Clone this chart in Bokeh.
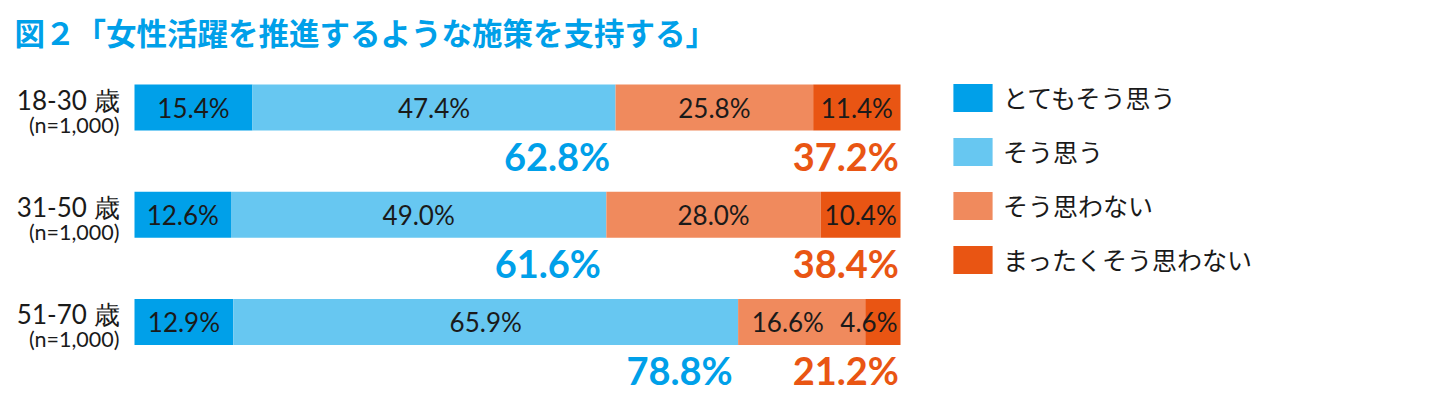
from bokeh.plotting import figure
from bokeh.models import ColumnDataSource, Range1d, Legend, LegendItem, Label
from bokeh.core.properties import value
from bokeh.embed import file_html
from bokeh.resources import INLINE

# ---- data ----
title_text = "図２「女性活躍を推進するような施策を支持する」"
groups = ["18-30 歳", "31-50 歳", "51-70 歳"]
sample_sizes = ["(n=1,000)", "(n=1,000)", "(n=1,000)"]
series_names = ["とてもそう思う", "そう思う", "そう思わない", "まったくそう思わない"]
strongly_agree = [15.4, 12.6, 12.9]
agree = [47.4, 49.0, 65.9]
disagree = [25.8, 28.0, 16.6]
strongly_disagree = [11.4, 10.4, 4.6]
agree_total = [62.8, 61.6, 78.8]
disagree_total = [37.2, 38.4, 21.2]

colors = ["#00A0E9", "#67C7F1", "#F08A5D", "#E95513"]
blue_total = "#00A0E9"
orange_total = "#E95513"
ink = "#1a1a1a"

W, H = 1440, 396
px_per_unit = 7.66
x0_px = 134
row_px = 107.2
row0_px = 107

x_start = -x0_px / px_per_unit
x_end = (W - x0_px) / px_per_unit
y_top = -row0_px / row_px
y_bottom = (H - row0_px) / row_px

p = figure(width=W, height=H, output_backend="svg", toolbar_location=None,
           x_range=Range1d(x_start, x_end), y_range=Range1d(y_bottom, y_top),
           min_border=0, min_border_left=0, min_border_right=0,
           min_border_top=0, min_border_bottom=0)
p.axis.visible = False
p.grid.visible = False
p.outline_line_color = None
p.background_fill_color = "white"
p.border_fill_color = "white"

rows = list(range(len(groups)))
keys = ["sa", "a", "d", "sd"]
src = ColumnDataSource(dict(y=rows, sa=strongly_agree, a=agree, d=disagree, sd=strongly_disagree))
bar_h = 46 / row_px
renderers = p.hbar_stack(keys, y="y", height=bar_h, color=colors, line_width=0, source=src)

# segment labels
seg_vals = [strongly_agree, agree, disagree, strongly_disagree]
lx, ly, lt = [], [], []
char_units = {"d": 14.5, ".": 6.0, "%": 22.0}
gap_units = 2.2
for i in rows:
    vals = [s[i] for s in seg_vals]
    starts = [sum(vals[:k]) for k in range(4)]
    centers = [starts[k] + vals[k] / 2 for k in range(4)]
    texts = [f"{v:.1f}%" for v in vals]
    widths = []
    for t in texts:
        w = sum(char_units["d"] if c.isdigit() else char_units.get(c, 14) for c in t)
        widths.append(w / px_per_unit)
    limit = 100 - 0.4
    xs = [0] * 4
    for k in range(3, -1, -1):
        xs[k] = min(centers[k], limit - widths[k] / 2)
        limit = xs[k] - widths[k] / 2 - gap_units
    lx += xs
    ly += [i] * 4
    lt += texts
p.text(x=lx, y=ly, text=lt, text_align="center", text_baseline="middle",
       text_font=value("Lato"), text_font_size=value("26px"), text_color=ink)

# totals under bars
tot_off = 48 / row_px
p.text(x=[v - 0.7 for v in agree_total], y=[r + tot_off for r in rows],
       text=[f"{v:.1f}%" for v in agree_total], text_align="right", text_baseline="middle",
       text_font=value("Lato"), text_font_style="bold", text_font_size=value("38px"),
       text_color=blue_total)
p.text(x=[100 - 0.2] * 3, y=[r + tot_off for r in rows],
       text=[f"{v:.1f}%" for v in disagree_total], text_align="right", text_baseline="middle",
       text_font=value("Lato"), text_font_style="bold", text_font_size=value("38px"),
       text_color=orange_total)

# row labels
lab_x = -15 / px_per_unit
p.text(x=[lab_x] * 3, y=[r - 8 / row_px for r in rows], text=groups, text_align="right",
       text_baseline="middle", text_font=value("Lato"), text_font_size=value("26px"), text_color=ink)
p.text(x=[lab_x] * 3, y=[r + 17 / row_px for r in rows], text=sample_sizes, text_align="right",
       text_baseline="middle", text_font=value("Lato"), text_font_size=value("21.5px"), text_color=ink)

# title
p.add_layout(Label(x=14, y=H - 31, x_units="screen", y_units="screen", text=title_text,
                   text_font="Noto Sans CJK JP", text_font_style="bold", text_font_size="30.5px",
                   text_color=blue_total, text_baseline="middle"))

# legend
items = [LegendItem(label=series_names[k], renderers=[renderers[k]]) for k in range(4)]
legend = Legend(items=items, location=(948, H - 277), orientation="vertical",
                glyph_width=49, glyph_height=35, label_height=35, label_standoff=6,
                spacing=18, padding=0, margin=0, border_line_alpha=0, background_fill_alpha=0,
                label_text_font="Noto Sans CJK JP", label_text_font_size="25px",
                label_text_color=ink, label_text_baseline="middle")
p.add_layout(legend)

open("out.html", "w").write(file_html(p, INLINE))
